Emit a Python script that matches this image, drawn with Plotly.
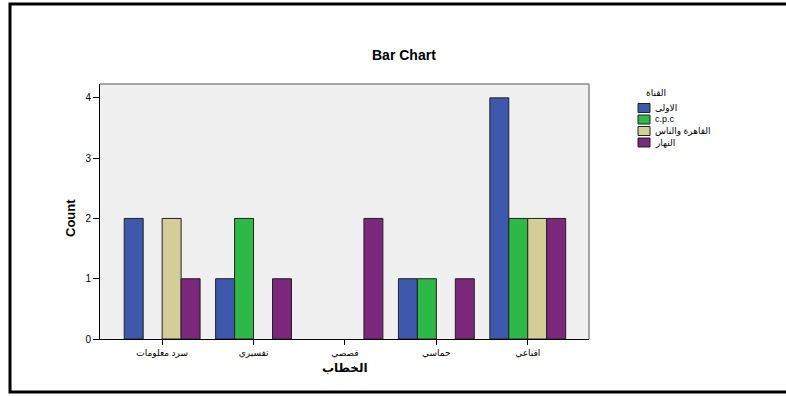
import plotly.graph_objects as go

# Categories (discourse type) and counts per channel
categories = ["سرد معلومات", "تفسيري", "قصصي", "حماسي", "اقناعي"]
series_names = ["الاولى", "c.p.c", "القاهرة والناس", "النهار"]
series_values = [
    [2, 1, 0, 1, 4],
    [0, 2, 0, 1, 2],
    [2, 0, 0, 0, 2],
    [1, 1, 2, 1, 2],
]
colors = ["#3E58AC", "#2EB848", "#D3CE97", "#7C287D"]
y_ticks = [0, 1, 2, 3, 4]

W, H = 786, 396
ML, MR, MT, MB = 100, 197, 84, 57
PW, PH = W - ML - MR, H - MT - MB


def px(x):
    return (x - ML) / PW


def py(y):
    return (H - MB - y) / PH


FONT = "Liberation Sans, Arial, DejaVu Sans, sans-serif"

fig = go.Figure()
for name, vals, col in zip(series_names, series_values, colors):
    fig.add_trace(go.Bar(
        x=list(range(len(categories))), y=vals, name=name,
        marker=dict(color=col,
                    line=dict(color="#222222",
                              width=[0 if v == 0 else 1 for v in vals])),
        showlegend=False,
    ))

fig.update_layout(
    width=W, height=H,
    margin=dict(l=ML, r=MR, t=MT, b=MB),
    paper_bgcolor="white",
    plot_bgcolor="#F0F0F0",
    barmode="group",
    bargap=0.17,
    bargroupgap=0,
    font=dict(family=FONT, color="black"),
    xaxis=dict(
        range=[-0.68, 4.67], tickvals=list(range(len(categories))),
        ticktext=categories, showgrid=False, zeroline=False,
        showline=True, linecolor="black", linewidth=1,
        ticks="outside", ticklen=5, tickcolor="black",
        tickfont=dict(size=9, family=FONT),
    ),
    yaxis=dict(
        range=[0, 4.23], tickvals=y_ticks, showgrid=False, zeroline=False,
        showline=True, linecolor="black", linewidth=1,
        ticks="outside", ticklen=6, tickcolor="black",
        tickfont=dict(size=10, family=FONT),
    ),
)

# gray frame on top and right of the plot area
fig.add_shape(type="line", xref="paper", yref="paper", x0=0, x1=1, y0=1, y1=1,
              line=dict(color="#8a8a8a", width=1.5))
fig.add_shape(type="line", xref="paper", yref="paper", x0=1, x1=1, y0=0, y1=1,
              line=dict(color="#8a8a8a", width=1.5))

# outer border around the chart
fig.add_shape(type="rect", xref="paper", yref="paper",
              x0=px(10), x1=px(800), y0=py(392), y1=py(4),
              line=dict(color="black", width=3), layer="above")


def label(text, x, y, size, xanchor="center", angle=0):
    fig.add_annotation(text=text, xref="paper", yref="paper",
                       x=px(x), y=py(y), xanchor=xanchor, yanchor="middle",
                       showarrow=False, textangle=angle,
                       font=dict(size=size, family=FONT, color="black"))


# titles
label("<b>Bar Chart</b>", 404, 55, 14)
label("<b>Count</b>", 70, 218, 13, angle=-90)
label("<b>الخطاب</b>", 345, 368, 12)

# legend
label("القناة", 656, 93, 9)
for i, (name, col) in enumerate(zip(series_names, colors)):
    yc = 108 + i * 11.5
    fig.add_shape(type="rect", xref="paper", yref="paper",
                  x0=px(638), x1=px(650), y0=py(yc + 4.5), y1=py(yc - 4.5),
                  fillcolor=col, line=dict(color="#222222", width=1))
    label(name, 653, yc, 9, xanchor="left")

fig.write_html("out.html")
